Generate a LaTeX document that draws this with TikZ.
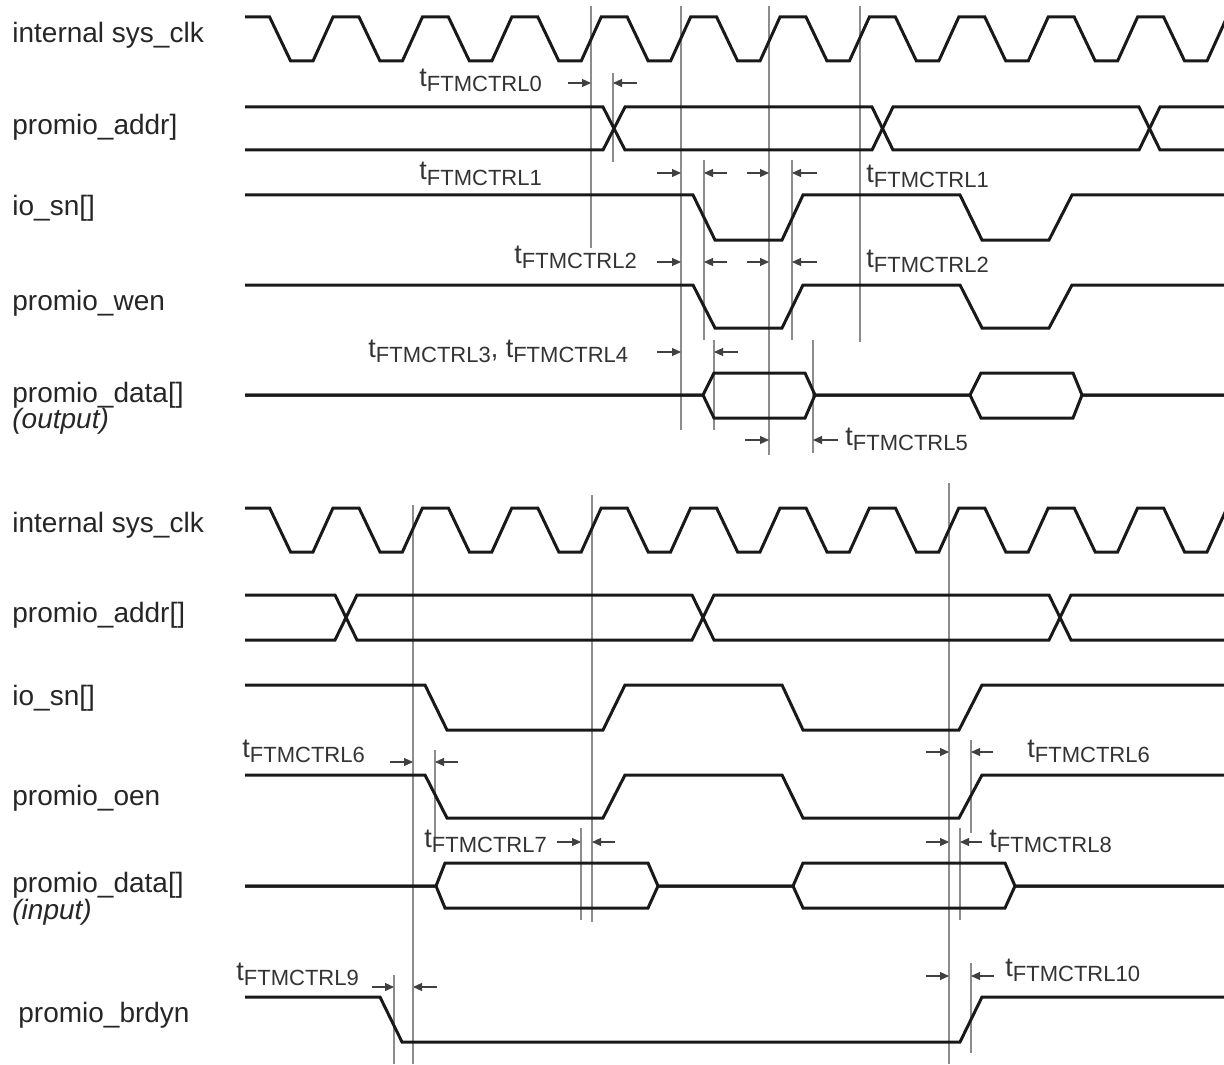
\documentclass[tikz,border=0pt]{standalone}
\usepackage{fontspec}
\setmainfont{Liberation Sans}
\usetikzlibrary{arrows.meta}

% timing parameter label: t with lowered FTMCTRLn
\newcommand\tft[1]{{\fontsize{13.5}{15}\selectfont t}\raisebox{-2.5pt}{\fontsize{11}{13}\selectfont FTMCTRL#1}}

\begin{document}
\begin{tikzpicture}[
  x=0.5pt, y=-0.5pt,
  sig/.style={line width=1.5pt, black!90},
  ref/.style={line width=0.8pt, black!45},
  tarr/.style={line width=0.6pt, black!75, -{Triangle[length=4.5pt,width=4pt]}},
  lbl/.style={anchor=base west, inner sep=0pt, text=black!85, font=\fontsize{14}{16}\selectfont},
  tlbl/.style={anchor=base west, inner sep=0pt, text=black!80}
]
\useasboundingbox (0,0) rectangle (1224,1064);

% reference lines
\foreach \x/\ya/\yb in {591/6/248, 681/6/430, 769/6/455, 860/6/342, 613/73/162,
  704/160/340, 792/160/340, 714/340/430, 813/340/453,
  413/505/1064, 592/495/922, 949/483/1064, 435/750/837, 581/828/920,
  971/740/833, 960/828/920, 971/963/1053, 394/975/1064}
  \draw[ref] (\x,\ya) -- (\x,\yb);

% ---- write cycle ----
\draw[sig] (245,17) \foreach \k in {0,...,10}{ -- ({269.6+89.4*\k},17) -- ({290.6+89.4*\k},61) -- ({313+89.4*\k},61) -- ({333+89.4*\k},17)};
\draw[sig] (245,107) -- (603,107) -- (625,150) -- (872,150) -- (893,107) -- (1139,107) -- (1160,150) -- (1224,150);
\draw[sig] (245,150) -- (603,150) -- (625,107) -- (872,107) -- (893,150) -- (1139,150) -- (1160,107) -- (1224,107);
\draw[sig] (245,195) -- (693,195) -- (715,240) -- (782,240) -- (803,195) -- (960,195) -- (982,240) -- (1049,240) -- (1072,195) -- (1224,195);
\draw[sig] (245,285) -- (693,285) -- (715,328) -- (782,328) -- (803,285) -- (960,285) -- (982,328) -- (1049,328) -- (1072,285) -- (1224,285);
\draw[sig] (245,395) -- (703,395) -- (714,373) -- (805,373) -- (815,395) -- (970,395) -- (981,373) -- (1073,373) -- (1082,395) -- (1224,395);
\draw[sig] (245,395) -- (703,395) -- (714,418) -- (805,418) -- (815,395) -- (970,395) -- (981,418) -- (1073,418) -- (1082,395) -- (1224,395);

% ---- read cycle ----
\draw[sig] (245,508) \foreach \k in {0,...,10}{ -- ({269.6+89.4*\k},508) -- ({290.6+89.4*\k},552) -- ({313+89.4*\k},552) -- ({333+89.4*\k},508)};
\draw[sig] (245,595) -- (335,595) -- (357,640) -- (692,640) -- (714,595) -- (1049,595) -- (1071,640) -- (1224,640);
\draw[sig] (245,640) -- (335,640) -- (357,595) -- (692,595) -- (714,640) -- (1049,640) -- (1071,595) -- (1224,595);
\draw[sig] (245,685) -- (425,685) -- (447,730) -- (603,730) -- (625,685) -- (782,685) -- (803,730) -- (959,730) -- (982,685) -- (1224,685);
\draw[sig] (245,775) -- (425,775) -- (447,818) -- (603,818) -- (625,775) -- (782,775) -- (803,818) -- (959,818) -- (982,775) -- (1224,775);
\draw[sig] (245,886) -- (436,886) -- (445,863) -- (648,863) -- (658,886) -- (793,886) -- (803,863) -- (1005,863) -- (1015,886) -- (1224,886);
\draw[sig] (245,886) -- (436,886) -- (445,908) -- (648,908) -- (658,886) -- (793,886) -- (803,908) -- (1005,908) -- (1015,886) -- (1224,886);
\draw[sig] (245,997) -- (380,997) -- (402,1042) -- (960,1042) -- (982,997) -- (1224,997);

% timing arrows
\foreach \y/\a/\b in {83/568/591, 83/637/613,
  173/657/681, 173/727/704, 173/747/769, 173/817/792,
  262/657/681, 262/727/704, 262/747/769, 262/817/792,
  352/657/681, 352/738/714, 440/745/769, 440/838/813,
  762/390/413, 762/458/435, 752/926/949, 752/993/971,
  842/557/581, 842/615/592, 842/926/949, 842/982/960,
  987/372/394, 987/437/413, 976/926/949, 976/994/971}
  \draw[tarr] (\a,\y) -- (\b,\y);

% signal names
\node[lbl] (clkw) at (12,43) {internal sys\_clk};
\node[lbl] (addrw) at (12,135) {promio\_addr]};
\node[lbl] (snw) at (12,215) {io\_sn[]};
\node[lbl] (wen) at (12,310) {promio\_wen};
\node[lbl] (dataw) at (12,402) {promio\_data[]};
\node[lbl, font=\fontsize{14}{16}\selectfont\itshape] (outw) at (12,428) {(output)};
\node[lbl] (clkr) at (12,532) {internal sys\_clk};
\node[lbl] (addrr) at (12,622) {promio\_addr[]};
\node[lbl] (snr) at (12,705) {io\_sn[]};
\node[lbl] (oen) at (12,805) {promio\_oen};
\node[lbl] (datar) at (12,892) {promio\_data[]};
\node[lbl, font=\fontsize{14}{16}\selectfont\itshape] (inr) at (12,919) {(input)};
\node[lbl] (brdyn) at (18,1022) {promio\_brdyn};

% timing parameters
\node[tlbl] (t0) at (419,87) {\tft{0}};
\node[tlbl] (t1a) at (419,180) {\tft{1}};
\node[tlbl] (t2a) at (514,263) {\tft{2}};
\node[tlbl] (t34) at (368,357) {\tft{3}{\fontsize{13.5}{15}\selectfont, }\tft{4}};
\node[tlbl] (t1b) at (866,183) {\tft{1}};
\node[tlbl] (t2b) at (866,267) {\tft{2}};
\node[tlbl] (t5) at (845,445) {\tft{5}};
\node[tlbl] (t6a) at (242,757) {\tft{6}};
\node[tlbl] (t6b) at (1027,757) {\tft{6}};
\node[tlbl] (t7) at (424,847) {\tft{7}};
\node[tlbl] (t8) at (989,847) {\tft{8}};
\node[tlbl] (t9) at (236,980) {\tft{9}};
\node[tlbl] (t10) at (1005,976) {\tft{10}};
\end{tikzpicture}
\end{document}
